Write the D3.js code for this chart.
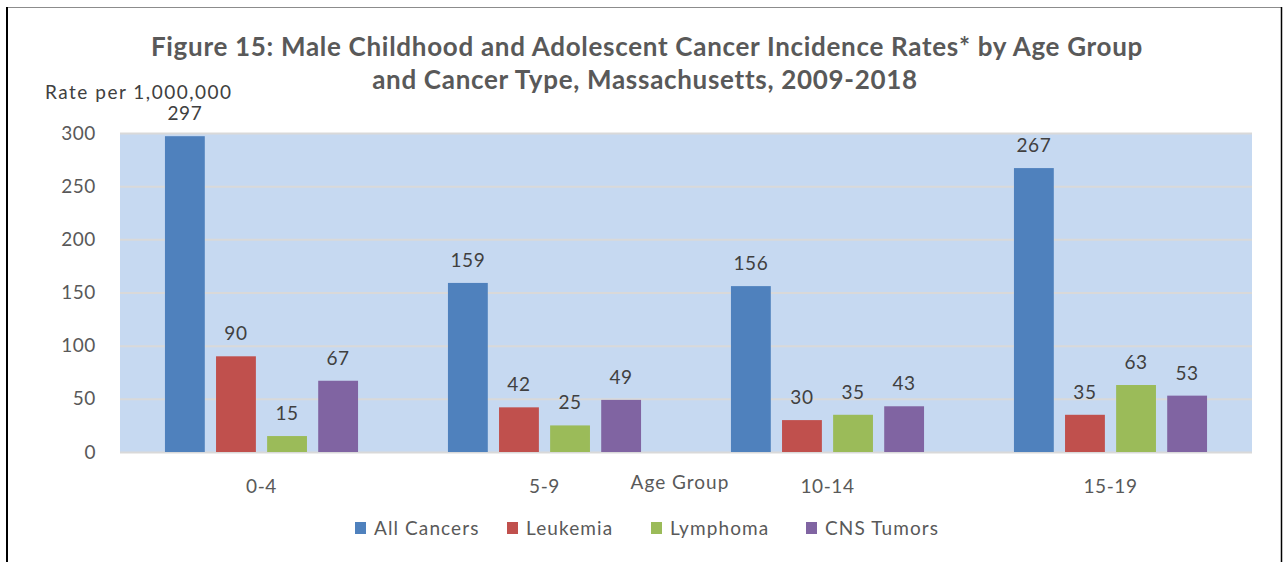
<!DOCTYPE html>
<html>
<head>
<meta charset="utf-8">
<script src="https://cdn.jsdelivr.net/npm/d3@7"></script>
<style>
  body { margin: 0; background: #fff; }
  svg text { font-family: Lato, "Open Sans", sans-serif; }
</style>
</head>
<body>
<div id="chart"></div>
<script>
var ageGroups = ['0-4', '5-9', '10-14', '15-19'];
var seriesNames = ['All Cancers', 'Leukemia', 'Lymphoma', 'CNS Tumors'];
var allCancers = [297, 159, 156, 267];
var leukemia = [90, 42, 30, 35];
var lymphoma = [15, 25, 35, 63];
var cnsTumors = [67, 49, 43, 53];
var yTicks = [0, 50, 100, 150, 200, 250, 300];
var colors = ['#4f81bd', '#c0504d', '#9bbb59', '#8064a2'];

var seriesValues = [allCancers, leukemia, lymphoma, cnsTumors];

var W = 1287, H = 562;
var margin = {top: 133, right: 35, bottom: 110, left: 120},
    width = W - margin.left - margin.right,
    height = H - margin.top - margin.bottom;

var svg = d3.select('#chart').append('svg')
  .attr('width', W).attr('height', H);

// frame
svg.append('line').attr('x1', 7).attr('x2', 1281).attr('y1', 7.5).attr('y2', 7.5)
  .style('stroke', '#8c8c8c').style('stroke-width', 1);
svg.append('line').attr('x1', 7).attr('x2', 7).attr('y1', 7).attr('y2', H)
  .style('stroke', '#000').style('stroke-width', 2);
svg.append('line').attr('x1', 1281.5).attr('x2', 1281.5).attr('y1', 7).attr('y2', H)
  .style('stroke', '#000').style('stroke-width', 1.5);

// title
var title = svg.append('text')
  .attr('text-anchor', 'middle')
  .style('font-size', '26px').style('font-weight', 'bold').style('fill', '#595959')
  .style('letter-spacing', '0.7px');
title.append('tspan').attr('x', 647).attr('y', 56)
  .text('Figure 15: Male Childhood and Adolescent Cancer Incidence Rates* by Age Group');
title.append('tspan').attr('x', 645).attr('y', 89)
  .text('and Cancer Type, Massachusetts, 2009-2018');

svg.append('text')
  .attr('x', 45).attr('y', 99)
  .style('font-size', '19px').style('fill', '#404040').style('letter-spacing', '1.5px')
  .text('Rate per 1,000,000');

var g = svg.append('g')
  .attr('transform', 'translate(' + margin.left + ',' + margin.top + ')');

var x0 = d3.scaleBand().domain(ageGroups).range([0, width]);
var x1 = d3.scaleBand().domain(d3.range(seriesNames.length))
  .range([0, x0.bandwidth()]).paddingInner(0.22).paddingOuter(0.88);
var y = d3.scaleLinear().domain([0, 300]).range([height, 0]);

g.append('rect')
  .attr('width', width).attr('height', height)
  .style('fill', '#c6d9f1');

g.append('g')
  .attr('class', 'yaxis')
  .call(d3.axisLeft(y).tickValues(yTicks).tickSize(-width).tickPadding(24));

g.selectAll('.yaxis .tick line')
  .style('stroke', '#d9d9d9').style('stroke-width', 2);
g.selectAll('.yaxis text')
  .style('font-size', '19px').style('fill', '#595959').style('letter-spacing', '0.6px');
g.selectAll('path.domain').style('stroke', 'none');

var groups = g.selectAll('g.group')
  .data(ageGroups)
  .enter().append('g')
  .attr('class', 'group')
  .attr('transform', function(d) { return 'translate(' + x0(d) + ',0)'; });

groups.selectAll('rect')
  .data(function(d, i) {
    return seriesValues.map(function(s, k) { return {k: k, v: s[i]}; });
  })
  .enter().append('rect')
  .attr('x', function(d) { return x1(d.k); })
  .attr('width', x1.bandwidth())
  .attr('y', function(d) { return y(d.v); })
  .attr('height', function(d) { return height - y(d.v); })
  .style('fill', function(d) { return colors[d.k]; });

groups.selectAll('text.val')
  .data(function(d, i) {
    return seriesValues.map(function(s, k) { return {k: k, v: s[i]}; });
  })
  .enter().append('text')
  .attr('class', 'val')
  .attr('text-anchor', 'middle')
  .attr('x', function(d) { return x1(d.k) + x1.bandwidth() / 2; })
  .attr('y', function(d) { return y(d.v) - 16; })
  .style('font-size', '19px').style('fill', '#404040').style('letter-spacing', '0.6px')
  .text(function(d) { return d.v; });

g.append('g')
  .attr('class', 'xaxis')
  .attr('transform', 'translate(0,' + height + ')')
  .call(d3.axisBottom(x0).tickSize(0).tickPadding(28));
g.selectAll('.xaxis text')
  .style('font-size', '19px').style('fill', '#595959').style('letter-spacing', '0.6px');
g.selectAll('.xaxis path.domain').style('stroke', 'none');

svg.append('text')
  .attr('x', 680).attr('y', 489)
  .attr('text-anchor', 'middle')
  .style('font-size', '19px').style('fill', '#595959').style('letter-spacing', '1px')
  .text('Age Group');

// legend
var legendX = [355, 507, 651, 806];
var legend = svg.selectAll('g.legend')
  .data(seriesNames)
  .enter().append('g')
  .attr('class', 'legend')
  .attr('transform', function(d, i) { return 'translate(' + legendX[i] + ',522)'; });
legend.append('rect')
  .attr('width', 11).attr('height', 12)
  .style('fill', function(d, i) { return colors[i]; });
legend.append('text')
  .attr('x', 19).attr('y', 13)
  .style('font-size', '19px').style('fill', '#595959').style('letter-spacing', '1.1px')
  .text(function(d) { return d; });
</script>
</body>
</html>
